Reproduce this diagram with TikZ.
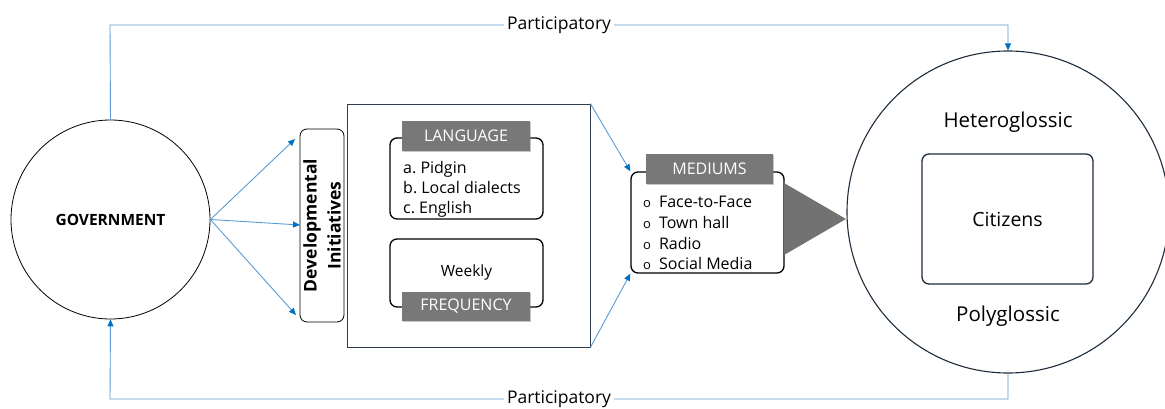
\documentclass[tikz,border=0pt]{standalone}
\usepackage{fontspec}
\setmainfont{Open Sans}
\usetikzlibrary{arrows.meta,shadows,calc}
\definecolor{lnblue}{RGB}{91,155,213}
\definecolor{tipblue}{RGB}{0,112,192}
\definecolor{hdrgray}{RGB}{120,120,120}
\definecolor{slate}{RGB}{30,45,60}
\newcommand{\fs}[2]{\fontsize{#1}{#2}\selectfont}
\newcommand{\bul}{{\fs{13}{13}o}\hspace{8pt}}
\begin{document}
\begin{tikzpicture}[x=1pt,y=-1pt,
  conn/.style={draw=lnblue,line width=0.9pt},
  arr/.style={conn,-{Triangle[length=7pt,width=6pt,color=tipblue]}},
  rbox/.style={draw=black,line width=1.3pt,rounded corners=7pt,minimum width=153pt,inner sep=0pt},
  hdr/.style={fill=hdrgray,text=white,inner sep=0pt,minimum height=30pt,font=\fs{16}{18},
     drop shadow={shadow xshift=0.8pt,shadow yshift=-1.2pt,opacity=0.45}},
  lbl/.style={fill=white,inner sep=3pt,font=\fs{17.5}{20}},
  plain/.style={inner sep=0pt}
]
\useasboundingbox (0,0) rectangle (1165,409);

% main circles
\node[circle,draw=black,line width=0.8pt,minimum size=199pt,inner sep=0pt,font=\bfseries\fs{15.5}{18}] (gov) at (110.5,219.5) {GOVERNMENT};
\node[circle,draw=slate,line width=1.1pt,minimum size=322pt,inner sep=0pt] (cit) at (1008,212) {};

% developmental initiatives
\node[draw=black,line width=0.8pt,rounded corners=7pt,minimum width=44pt,minimum height=193pt,inner sep=0pt] (dev) at (322,225.5) {};
\node[rotate=90,align=center,font=\bfseries\fs{17.5}{24},inner sep=0pt] (devtxt) at (dev.center) {Developmental\\Initiatives};

% big frame
\node[draw=slate!80!gray,line width=0.8pt,minimum width=243pt,minimum height=243pt,inner sep=0pt] (big) at (468.5,225.5) {};

% language
\node[rbox,minimum height=81pt] (langbox) at (466.5,178.5) {};
\node[hdr,minimum width=128pt] (langhdr) at (466,136) {LANGUAGE};
\node[plain,anchor=west,align=left,font=\fs{16}{20}] (langlist) at (403,189.5) {a.~Pidgin\\b.~Local dialects\\c.~English};

% frequency
\node[rbox,minimum height=68pt] (freqbox) at (466.5,273) {};
\node[plain,font=\fs{15.5}{18}] (weekly) at (466.5,272.5) {Weekly};
\node[hdr,minimum width=128pt,minimum height=29pt] (freqhdr) at (466,306.5) {FREQUENCY};

% mediums
\node[rbox,minimum height=101pt] (medbox) at (707.5,222.5) {};
\node[hdr,minimum width=127pt] (medhdr) at (709.5,169) {MEDIUMS};
\node[plain,anchor=west,align=left,font=\fs{16}{20.8}] (medlist) at (643,233) {\bul Face-to-Face\\\bul Town hall\\\bul Radio\\\bul Social Media};

% gray triangle
\coordinate (t1) at (784,183);
\coordinate (t2) at (784,255);
\coordinate (t3) at (846,219);
\fill[hdrgray!95!black] (t1) -- (t3) -- (t2) -- cycle;

% citizens
\node[draw=slate,line width=1.3pt,rounded corners=7pt,minimum width=171pt,minimum height=130pt,inner sep=0pt,font=\fs{19.5}{22}] (citbox) at (1007.5,219) {Citizens};
\node[plain,font=\fs{20.5}{24}] (hetero) at (1008,122) {Heteroglossic};
\node[plain,font=\fs{20.5}{24}] (poly) at (1008,316) {Polyglossic};

% arrows from government
\coordinate (d1) at (295,139);
\coordinate (d2) at (300,225);
\coordinate (d3) at (296,315);
\draw[arr] (gov.east) -- (d1);
\draw[arr] (gov.east) -- (d2);
\draw[arr] (gov.east) -- (d3);

% big frame to mediums
\draw[arr] (big.north east) -- (medbox.north west);
\draw[arr] (big.south east) -- (medbox.south west);

% participatory loops
\coordinate (tl) at (110,25);
\coordinate (tr) at (1008,25);
\coordinate (bl) at (110,399);
\coordinate (br) at (1008,399);
\draw[arr] (gov.north) -- (tl) -- node[lbl] (ptop) {Participatory} (tr) -- (cit.north);
\draw[arr] (cit.south) -- (br) -- node[lbl] (pbot) {Participatory} (bl) -- (gov.south);
\end{tikzpicture}
\end{document}
